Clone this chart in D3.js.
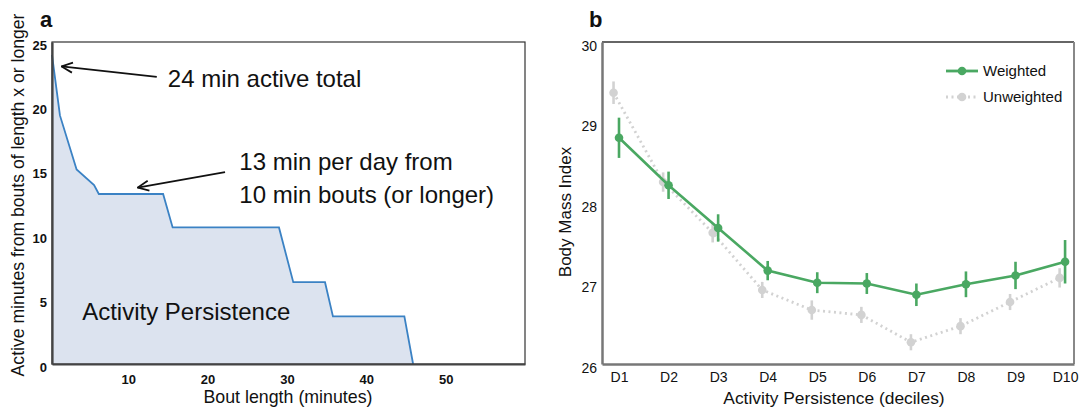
<!DOCTYPE html>
<html>
<head>
<meta charset="utf-8">
<script src="https://cdn.jsdelivr.net/npm/d3@7"></script>
<style>
  body { margin: 0; background: #fff; }
  svg text { font-family: "Liberation Sans", Arial, Helvetica, sans-serif; fill: #111; }
</style>
</head>
<body>
<div id="chart"></div>
<script>
// panel a: activity persistence curve
const boutLength = [0.4, 1.4, 3.5, 5.7, 6.3, 14.4, 15.6, 29.0, 30.8, 34.8, 35.8, 44.8, 45.9];
const activeMinutes = [24, 19.3, 15.1, 13.9, 13.2, 13.2, 10.6, 10.6, 6.35, 6.35, 3.7, 3.7, 0];
const aXTicks = [10, 20, 30, 40, 50];
const aYTicks = [0, 5, 10, 15, 20, 25];

// panel b: BMI by decile
const deciles = ["D1", "D2", "D3", "D4", "D5", "D6", "D7", "D8", "D9", "D10"];
const weightedBmi = [28.81, 28.22, 27.69, 27.16, 27.01, 27.0, 26.86, 26.99, 27.1, 27.27];
const weightedErr = [0.25, 0.17, 0.17, 0.12, 0.13, 0.13, 0.14, 0.16, 0.17, 0.27];
const unweightedBmi = [29.37, 28.26, 27.63, 26.92, 26.67, 26.61, 26.27, 26.47, 26.77, 27.07];
const unweightedErr = [0.14, 0.12, 0.12, 0.1, 0.12, 0.1, 0.1, 0.1, 0.1, 0.12];
const bYTicks = [26, 27, 28, 29, 30];

const width = 1083, height = 411;

let svg = d3.select("#chart").append("svg")
    .attr("width", width)
    .attr("height", height);

svg.append("defs").append("marker")
    .attr("id", "arrowhead")
    .attr("viewBox", "-13 -7 14 14")
    .attr("refX", 0).attr("refY", 0)
    .attr("markerWidth", 14).attr("markerHeight", 14)
    .attr("markerUnits", "userSpaceOnUse")
    .attr("orient", "auto")
    .append("path")
    .attr("d", "M-11,-5 L0,0 L-11,5")
    .attr("fill", "none")
    .attr("stroke", "#111")
    .attr("stroke-width", 1.8);

//#region Panel a

let ax = d3.scaleLinear().domain([0.4, 60]).range([52, 525]);
let ay = d3.scaleLinear().domain([0, 25]).range([364, 42]);

let pts = boutLength.map((b, i) => ({x: b, y: activeMinutes[i]}));

svg.append("path")
    .datum(pts)
    .attr("d", d3.area().x(d => ax(d.x)).y0(ay(0)).y1(d => ay(d.y)))
    .attr("fill", "#dce3ef");

svg.append("path")
    .datum(pts)
    .attr("d", d3.line().x(d => ax(d.x)).y(d => ay(d.y)))
    .attr("fill", "none")
    .attr("stroke", "#3b82c4")
    .attr("stroke-width", 1.8);

// frame
svg.append("rect")
    .attr("x", ax.range()[0]).attr("y", ay.range()[1])
    .attr("width", ax.range()[1] - ax.range()[0])
    .attr("height", ay.range()[0] - ay.range()[1])
    .attr("fill", "none").attr("stroke", "#333").attr("stroke-width", 1.2);

let aXAxis = svg.append("g")
    .attr("transform", "translate(0," + ay(0) + ")")
    .call(d3.axisBottom(ax).tickValues(aXTicks).tickSize(0).tickPadding(11));
let aYAxis = svg.append("g")
    .attr("transform", "translate(" + ax.range()[0] + ",0)")
    .call(d3.axisLeft(ay).tickValues(aYTicks).tickSize(0).tickPadding(5));
[aXAxis, aYAxis].forEach(g => {
    g.select(".domain").attr("stroke", "#444").attr("stroke-width", 2.2);
    g.selectAll("text").attr("font-size", 13).attr("font-weight", "bold").attr("fill", "#222");
});
aYAxis.selectAll("text").attr("dy", "0.55em");

// annotations
const arrowsA = [
    {x1: 13.6, y1: 22.3, x2: 1.6, y2: 23.1},
    {x1: 22.2, y1: 14.9, x2: 11.2, y2: 13.7}
];
svg.selectAll("line.arrow")
    .data(arrowsA)
    .join("line")
    .attr("class", "arrow")
    .attr("x1", d => ax(d.x1)).attr("y1", d => ay(d.y1))
    .attr("x2", d => ax(d.x2)).attr("y2", d => ay(d.y2))
    .attr("stroke", "#111").attr("stroke-width", 1.8)
    .attr("marker-end", "url(#arrowhead)");

const notesA = [
    {text: "24 min active total", x: 15, y: 21.5, size: 24},
    {text: "13 min per day from", x: 24.0, y: 15.05, size: 24},
    {text: "10 min bouts (or longer)", x: 24.0, y: 12.5, size: 24},
    {text: "Activity Persistence", x: 4.2, y: 3.4, size: 24}
];
svg.selectAll("text.noteA")
    .data(notesA)
    .join("text")
    .attr("class", "noteA")
    .attr("x", d => ax(d.x)).attr("y", d => ay(d.y))
    .attr("font-size", d => d.size)
    .text(d => d.text);

svg.append("text")
    .attr("transform", "translate(24," + 195 + ")rotate(-90)")
    .attr("text-anchor", "middle")
    .attr("font-size", 17.6)
    .text("Active minutes from bouts of length x or longer");

svg.append("text")
    .attr("x", 288).attr("y", 403)
    .attr("text-anchor", "middle")
    .attr("font-size", 17.8)
    .text("Bout length (minutes)");

svg.append("text")
    .attr("x", 40).attr("y", 27)
    .attr("font-size", 22).attr("font-weight", "bold")
    .text("a");

//#endregion

//#region Panel b

let bx = d3.scaleLinear().domain([0.657, 10.18]).range([602, 1074]);
let by = d3.scaleLinear().domain([26, 30]).range([364, 42]);
const green = "#4aa862", grey = "#d2d2d2";

svg.append("line")
    .attr("x1", 602).attr("x2", 1074).attr("y1", 42).attr("y2", 42)
    .attr("stroke", "#333").attr("stroke-width", 1.5);
svg.append("line")
    .attr("x1", 1074).attr("x2", 1074).attr("y1", 42).attr("y2", 364)
    .attr("stroke", "#888").attr("stroke-width", 2);

let bXAxis = svg.append("g")
    .attr("transform", "translate(0," + by(26) + ")")
    .call(d3.axisBottom(bx).tickValues(d3.range(1, 11)).tickFormat(i => deciles[i - 1])
        .tickSize(0).tickPadding(8));
let bYAxis = svg.append("g")
    .attr("transform", "translate(" + bx.range()[0] + ",0)")
    .call(d3.axisLeft(by).tickValues(bYTicks).tickFormat(d3.format("d")).tickSize(0).tickPadding(5));
[bXAxis, bYAxis].forEach(g => {
    g.select(".domain").attr("stroke", "#777").attr("stroke-width", 2.5);
    g.selectAll("text").attr("font-size", 14).attr("fill", "#222");
});
bYAxis.selectAll("text").attr("dy", "0.6em");

const seriesB = [
    {name: "Unweighted", vals: unweightedBmi, err: unweightedErr, color: grey, dash: "2,3.5", shift: -0.11},
    {name: "Weighted", vals: weightedBmi, err: weightedErr, color: green, dash: null, shift: 0}
];

seriesB.forEach(s => {
    let d = s.vals.map((v, i) => ({i: i + 1 + s.shift, v: v, e: s.err[i]}));
    let g = svg.append("g");
    g.append("path")
        .datum(d)
        .attr("d", d3.line().x(p => bx(p.i)).y(p => by(p.v)))
        .attr("fill", "none")
        .attr("stroke", s.color)
        .attr("stroke-width", s.dash ? 2.8 : 2.6)
        .attr("stroke-dasharray", s.dash);
    g.selectAll("line")
        .data(d)
        .join("line")
        .attr("x1", p => bx(p.i)).attr("x2", p => bx(p.i))
        .attr("y1", p => by(p.v - p.e)).attr("y2", p => by(p.v + p.e))
        .attr("stroke", s.color).attr("stroke-width", 2.6);
    g.selectAll("circle")
        .data(d)
        .join("circle")
        .attr("cx", p => bx(p.i)).attr("cy", p => by(p.v))
        .attr("r", 4.3)
        .attr("fill", s.color);
});

// legend
const legendB = [seriesB[1], seriesB[0]];
let leg = svg.append("g").attr("transform", "translate(946,71)");
legendB.forEach((s, i) => {
    let row = leg.append("g").attr("transform", "translate(0," + i * 26 + ")");
    row.append("line")
        .attr("x1", 0).attr("x2", 32).attr("y1", 0).attr("y2", 0)
        .attr("stroke", s.color).attr("stroke-width", 2.8)
        .attr("stroke-dasharray", s.dash);
    row.append("circle").attr("cx", 16).attr("cy", 0).attr("r", 4.3).attr("fill", s.color);
    row.append("text")
        .attr("x", 37).attr("y", 5)
        .attr("font-size", 15)
        .text(s.name);
});

svg.append("text")
    .attr("transform", "translate(571,212)rotate(-90)")
    .attr("text-anchor", "middle")
    .attr("font-size", 17)
    .text("Body Mass Index");

svg.append("text")
    .attr("x", 834).attr("y", 404)
    .attr("text-anchor", "middle")
    .attr("font-size", 17.4)
    .text("Activity Persistence (deciles)");

svg.append("text")
    .attr("x", 589).attr("y", 27)
    .attr("font-size", 22).attr("font-weight", "bold")
    .text("b");

//#endregion
</script>
</body>
</html>
